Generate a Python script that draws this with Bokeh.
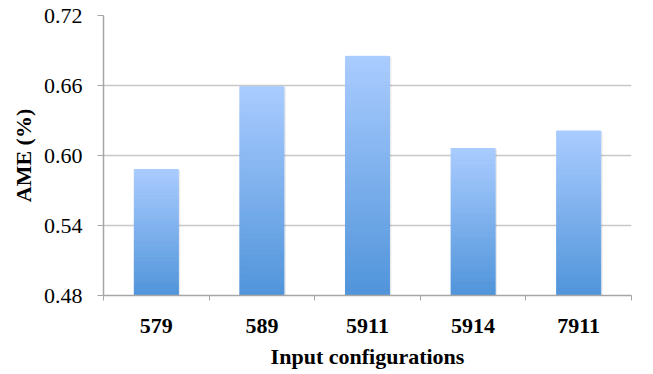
from bokeh.plotting import figure
from bokeh.models import FixedTicker, NumeralTickFormatter, Range1d
from bokeh.embed import file_html
from bokeh.resources import INLINE

categories = ["579", "589", "5911", "5914", "7911"]
ame_values = [0.588, 0.659, 0.685, 0.606, 0.621]
y_ticks = [0.48, 0.54, 0.60, 0.66, 0.72]
y_min, y_max = 0.48, 0.72

FONT = "Liberation Serif"
top_rgb = (170, 204, 255)
bot_rgb = (80, 148, 218)

p = figure(width=653, height=374, output_backend="svg", toolbar_location=None,
           x_range=Range1d(0, len(categories)), y_range=Range1d(y_min, y_max),
           min_border_left=103, min_border_right=22, min_border_top=15, min_border_bottom=79)
p.outline_line_color = None
p.background_fill_color = "white"

# gradient bars built from slices
N = 80
xs, bottoms, tops, colors = [], [], [], []
for i, v in enumerate(ame_values):
    h = v - y_min
    for j in range(N):
        t = (j + 0.5) / N
        c = tuple(int(round(b + (tt - b) * t)) for b, tt in zip(bot_rgb, top_rgb))
        xs.append(i + 0.5)
        bottoms.append(y_min + h * j / N)
        tops.append(y_min + h * (j + 1) / N)
        colors.append("#%02x%02x%02x" % c)

# soft shadow
p.vbar(x=[i + 0.5 + 0.012 for i in range(len(categories))], width=0.43, bottom=y_min,
       top=[v - 0.0004 for v in ame_values], fill_color="#000000", fill_alpha=0.08, line_color=None)
p.vbar(x=xs, width=0.417, bottom=bottoms, top=tops, fill_color=colors, line_color=colors, line_width=1)

# y axis
p.yaxis.ticker = FixedTicker(ticks=y_ticks)
p.yaxis.formatter = NumeralTickFormatter(format="0.00")
p.yaxis.axis_label = "AME (%)"
p.yaxis.axis_label_text_font = FONT
p.yaxis.axis_label_text_font_style = "bold"
p.yaxis.axis_label_text_font_size = "22px"
p.yaxis.axis_label_text_color = "black"
p.yaxis.axis_label_standoff = 5
p.yaxis.major_label_text_font = FONT
p.yaxis.major_label_text_font_size = "22px"
p.yaxis.major_label_text_color = "black"
p.yaxis.major_label_standoff = 15
p.yaxis.axis_line_color = "#a6a6a6"
p.yaxis.axis_line_width = 1.5
p.yaxis.major_tick_line_color = "#a6a6a6"
p.yaxis.major_tick_out = 6
p.yaxis.major_tick_in = 0
p.yaxis.minor_tick_line_color = None

# x axis: labels at centres, ticks at boundaries
centres = [i + 0.5 for i in range(len(categories))]
p.xaxis.ticker = FixedTicker(ticks=centres, minor_ticks=list(range(len(categories) + 1)))
p.xaxis.major_label_overrides = {c: lab for c, lab in zip(centres, categories)}
p.xaxis.major_label_text_font = FONT
p.xaxis.major_label_text_font_style = "bold"
p.xaxis.major_label_text_font_size = "22px"
p.xaxis.major_label_text_color = "black"
p.xaxis.major_label_standoff = 18
p.xaxis.major_tick_line_color = None
p.xaxis.major_tick_out = 0
p.xaxis.major_tick_in = 0
p.xaxis.minor_tick_line_color = "#a6a6a6"
p.xaxis.minor_tick_out = 5
p.xaxis.minor_tick_in = 0
p.xaxis.axis_line_color = "#a6a6a6"
p.xaxis.axis_line_width = 1.5
p.xaxis.axis_label = "Input configurations"
p.xaxis.axis_label_text_font = FONT
p.xaxis.axis_label_text_font_style = "bold"
p.xaxis.axis_label_text_font_size = "22px"
p.xaxis.axis_label_text_color = "black"
p.xaxis.axis_label_standoff = 8

p.xgrid.grid_line_color = None
p.ygrid.grid_line_color = "#c8c8c8"
p.ygrid.grid_line_width = 1.5

open("out.html", "w").write(file_html(p, INLINE))
